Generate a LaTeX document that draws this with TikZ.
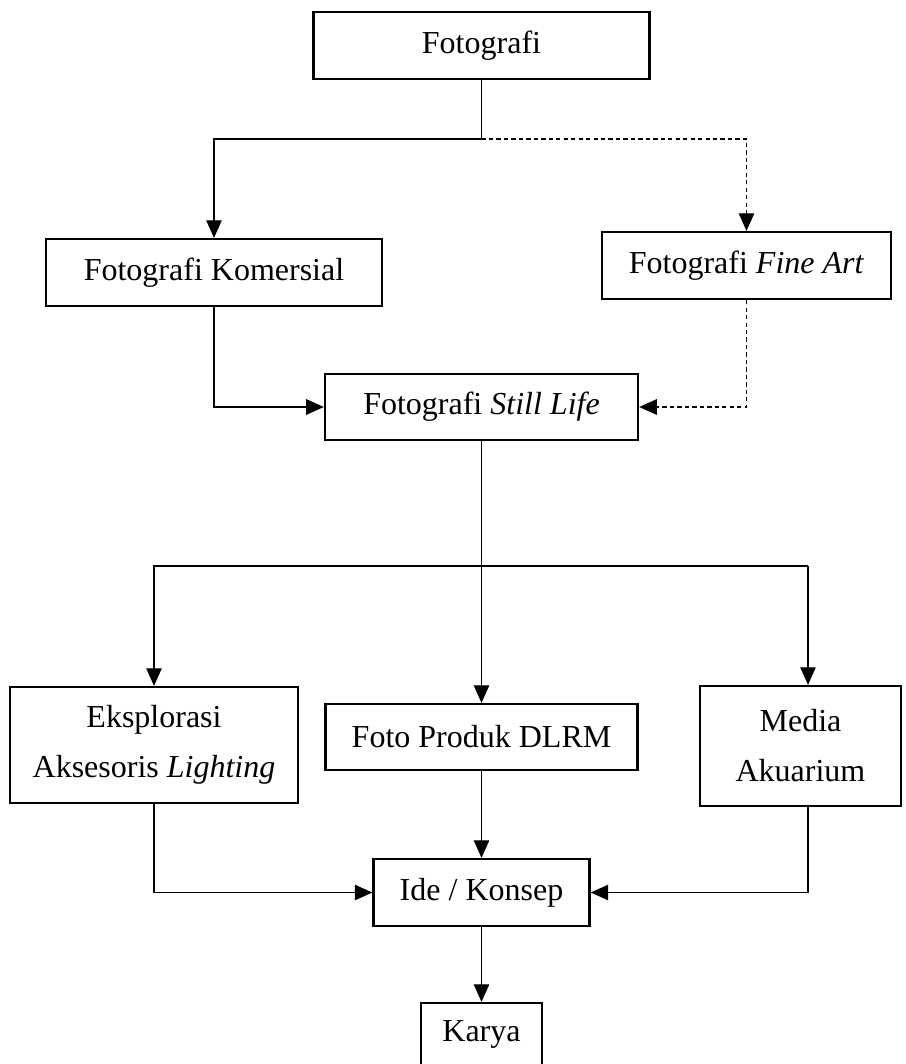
\documentclass[tikz,border=0pt]{standalone}
\usepackage{fontspec}
\setmainfont{Liberation Serif}
\usepackage{tikz}
\usetikzlibrary{positioning,arrows.meta,calc}
\tikzset{
  flowbox/.style={draw=black, line width=0.85pt, inner sep=0pt, align=center,
                  font=\fontsize{12}{18.75}\selectfont},
  arr/.style={-{Triangle[length=6.6pt,width=5.8pt]}, line width=0.45pt, black},
  link/.style={line width=0.45pt, black},
  dashlink/.style={dash pattern=on 1.6pt off 1.2pt}
}

\begin{document}
\begin{tikzpicture}[x=0.375pt, y=-0.375pt]
  \useasboundingbox (0,0) rectangle (905,1064);

  % Top level
  \node[flowbox, minimum width=126pt, minimum height=25.1pt] (foto) at (481.5,45.5) {Fotografi};

  % Branches
  \node[flowbox, minimum width=126pt, minimum height=25.1pt] (komersial) at (214,272.5)
        {Fotografi Komersial};
  \node[flowbox, minimum width=108.4pt, minimum height=25.1pt] (fineart) at (746.5,265.5)
        {Fotografi \textit{Fine Art}};
  \node[flowbox, minimum width=117.4pt, minimum height=24.75pt] (stilllife) at (481.5,407)
        {Fotografi \textit{Still Life}};

  % Sources
  \node[flowbox, minimum width=108pt, minimum height=43.5pt] (eksplorasi) at (154,745)
        {Eksplorasi\\Aksesoris \textit{Lighting}};
  \node[flowbox, minimum width=117pt, minimum height=24.75pt] (produk) at (481.5,737)
        {Foto Produk DLRM};
  \node[flowbox, minimum width=75.4pt, minimum height=45pt] (media) at (800.5,746)
        {Media\\Akuarium};

  % Result
  \node[flowbox, minimum width=81pt, minimum height=25.1pt] (ide) at (481.5,892.5) {Ide / Konsep};
  \node[flowbox, minimum width=45.4pt, minimum height=23.6pt] (karya) at (481.5,1034.5) {Karya};

  % Split below Fotografi
  \coordinate (split) at (481.5,139);
  \draw[link] (foto.south) -- (split);
  \draw[arr] (split) -| (komersial.north);
  \draw[arr, dashlink] (split) -| (fineart.north);

  % Into Still Life
  \draw[arr] (komersial.south) |- (stilllife.west);
  \draw[arr, dashlink] (fineart.south) |- (stilllife.east);

  % Split below Still Life
  \coordinate (branch) at (481.5,566);
  \coordinate (mtop) at (808,566);
  \draw[arr] (stilllife.south) -- (produk.north);
  \draw[arr] (branch) -| (eksplorasi.north);
  \draw[link] (branch) -- (mtop);
  \draw[arr] (mtop) -- (mtop |- media.north);

  % Into Ide / Konsep
  \draw[arr] (eksplorasi.south) |- (ide.west);
  \draw[arr] (produk.south) -- (ide.north);
  \draw[arr] (mtop |- media.south) |- (ide.east);
  \draw[arr] (ide.south) -- (karya.north);
\end{tikzpicture}
\end{document}
